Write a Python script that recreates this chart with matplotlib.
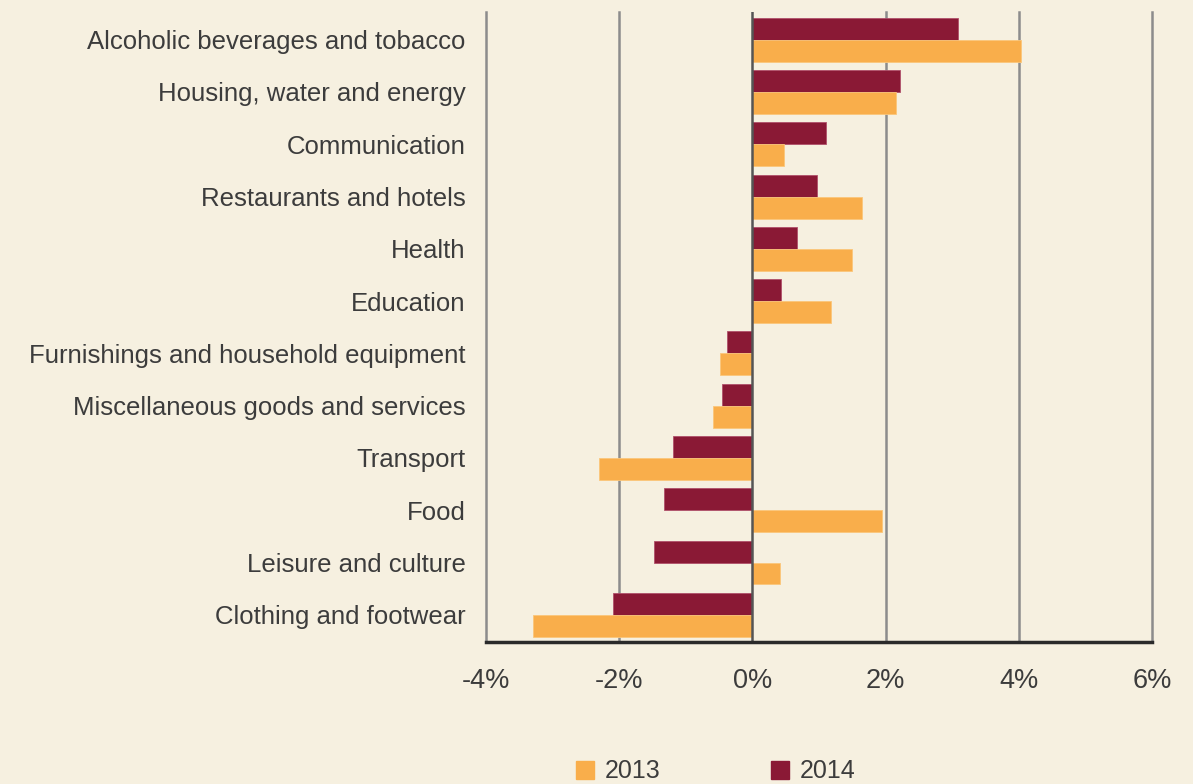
import matplotlib.pyplot as plt
import numpy as np
from matplotlib.patches import Patch
from matplotlib.ticker import FuncFormatter

categories = [
    "Alcoholic beverages and tobacco",
    "Housing, water and energy",
    "Communication",
    "Restaurants and hotels",
    "Health",
    "Education",
    "Furnishings and household equipment",
    "Miscellaneous goods and services",
    "Transport",
    "Food",
    "Leisure and culture",
    "Clothing and footwear",
]
vals_2013 = [4.03, 2.15, 0.47, 1.64, 1.49, 1.18, -0.49, -0.59, -2.30, 1.95, 0.41, -3.29]
vals_2014 = [3.09, 2.21, 1.10, 0.97, 0.67, 0.43, -0.38, -0.45, -1.19, -1.32, -1.47, -2.09]
x_ticks = [-4, -2, 0, 2, 4, 6]

bg = "#F6F0E0"
orange = "#F9AE4B"
maroon = "#8A1935"
text_col = "#3c3c3c"

plt.rcParams["font.family"] = ["Liberation Sans", "DejaVu Sans"]

fig = plt.figure(figsize=(11.93, 7.84), dpi=100, facecolor=bg)
ax = fig.add_axes([486 / 1193, 1 - 642 / 784, (1152 - 486) / 1193, (642 - 12) / 784])
ax.set_facecolor(bg)

y = np.arange(len(categories))
h = 0.42
ax.barh(y - h / 2, vals_2014, height=h, color=maroon, edgecolor="#b0506a", linewidth=0.6, zorder=3)
ax.barh(y + h / 2, vals_2013, height=h, color=orange, edgecolor="#fbc67a", linewidth=0.6, zorder=3)

ax.set_ylim(len(categories) - 0.48, -0.53)
ax.set_xlim(-4, 6)
ax.set_xticks(x_ticks)
ax.xaxis.set_major_formatter(FuncFormatter(lambda v, p: f"{v:.0f}%"))
ax.set_yticks(y)
ax.set_yticklabels(categories)

# vertical gridlines, zero line darker
for t in x_ticks:
    if t == 0:
        ax.axvline(t, color="#555555", linewidth=1.8, zorder=4)
    else:
        ax.axvline(t, color="#8c8c8c", linewidth=1.8, zorder=1, clip_on=False)

for s in ["top", "right", "left"]:
    ax.spines[s].set_visible(False)
ax.spines["bottom"].set_color("#2a2a2a")
ax.spines["bottom"].set_linewidth(2.5)
ax.spines["bottom"].set_zorder(5)

ax.tick_params(axis="both", length=0, colors=text_col)
ax.tick_params(axis="y", labelsize=18.5, pad=14.5)
ax.tick_params(axis="x", labelsize=19.5, pad=19)

handles = [Patch(color=orange, label="2013"), Patch(color=maroon, label="2014")]
fig.legend(handles=handles, loc="center", bbox_to_anchor=(0.6, 0.016), ncol=2,
           frameon=False, fontsize=18, handlelength=0.71, handleheight=0.71,
           handletextpad=0.44, columnspacing=4.4, labelcolor=text_col)

fig.savefig("out.png", dpi=100, facecolor=bg)
